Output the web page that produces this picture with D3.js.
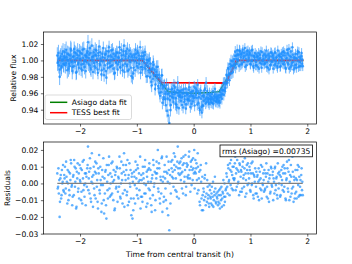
<!DOCTYPE html>
<html lang="en">
<head>
<meta charset="UTF-8">
<title>transit light curve</title>
<script src="https://d3js.org/d3.v7.min.js"></script>
<style>
  body { margin: 0; background: #fff; }
  text { font-family: "DejaVu Sans", sans-serif; }
</style>
</head>
<body>
<script>

// observation times (h from central transit), first half of the exposures
const time = [
  -2.400,-2.386,-2.373,-2.359,-2.346,-2.332,-2.319,-2.305,-2.292,-2.278,
  -2.265,-2.251,-2.238,-2.224,-2.211,-2.197,-2.184,-2.170,-2.157,-2.143,
  -2.130,-2.116,-2.103,-2.089,-2.076,-2.062,-2.049,-2.035,-2.022,-2.008,
  -1.995,-1.981,-1.968,-1.954,-1.941,-1.927,-1.914,-1.900,-1.887,-1.873,
  -1.860,-1.846,-1.833,-1.819,-1.806,-1.792,-1.779,-1.765,-1.752,-1.738,
  -1.725,-1.711,-1.698,-1.684,-1.671,-1.657,-1.644,-1.630,-1.617,-1.603,
  -1.590,-1.576,-1.563,-1.549,-1.536,-1.522,-1.509,-1.495,-1.482,-1.468,
  -1.455,-1.441,-1.428,-1.414,-1.401,-1.387,-1.374,-1.360,-1.347,-1.333,
  -1.320,-1.306,-1.293,-1.279,-1.266,-1.252,-1.239,-1.225,-1.212,-1.198,
  -1.185,-1.171,-1.158,-1.144,-1.131,-1.117,-1.104,-1.090,-1.077,-1.063,
  -1.050,-1.036,-1.023,-1.009,-0.996,-0.982,-0.969,-0.955,-0.942,-0.928,
  -0.915,-0.901,-0.888,-0.874,-0.861,-0.847,-0.834,-0.820,-0.807,-0.793,
  -0.780,-0.766,-0.753,-0.739,-0.726,-0.712,-0.699,-0.685,-0.672,-0.658,
  -0.645,-0.631,-0.618,-0.604,-0.591,-0.577,-0.564,-0.550,-0.537,-0.523,
  -0.510,-0.496,-0.483,-0.469,-0.456,-0.442,-0.429,-0.415,-0.402,-0.388,
  -0.375,-0.361,-0.348,-0.334,-0.321,-0.307,-0.294,-0.280,-0.267,-0.253,
  -0.240,-0.226,-0.213,-0.199,-0.186,-0.172,-0.159,-0.145,-0.132,-0.118,
  -0.105,-0.091,-0.078,-0.064,-0.051,-0.037,-0.024,-0.010,0.003,0.017,
  0.030,0.044,0.057,0.071,0.084,0.098,0.111,0.125,0.138,0.152,
  0.165,0.179,0.192,0.206,0.219,0.233,0.246,0.260,0.273,0.287,
  0.300,0.314,0.327,0.341,0.354,0.368,0.381,0.395,0.408,0.422,
  0.435,0.449,0.462,0.476,0.489,0.503,0.516,0.530,0.543,0.557,
  0.570,0.584,0.597,0.611,0.624,0.638,0.651,0.665,0.678,0.692,
  0.705,0.719,0.732,0.746,0.759,0.773,0.786,0.800,0.813,0.827,
  0.840,0.854,0.867,0.881,0.894,0.908,0.921,0.935,0.948,0.962,
  0.975,0.989,1.002,1.016,1.029,1.043,1.056,1.070,1.083,1.097,
  1.110,1.124,1.137,1.151,1.164,1.178,1.191,1.205,1.218,1.232,
  1.245,1.259,1.272,1.286,1.299,1.313,1.326,1.340,1.353,1.367,
  1.380,1.394,1.407,1.421,1.434,1.448,1.461,1.475,1.488,1.502,
  1.515,1.529,1.542,1.556,1.569,1.583,1.596,1.610,1.623,1.637,
  1.650,1.664,1.677,1.691,1.704,1.718,1.731,1.745,1.758,1.772,
  1.785,1.799,1.812,1.826,1.839,1.853,1.866,1.880,1.893,1.907,
  1.920
];

// residuals vs the Asiago fit for the times above, parts per thousand
const residPpt = [
  6,-2,-6,-20,3,-9,8,1,-4,5,
  10,-3,4,-12,0,7,-7,2,12,-1,
  -8,5,14,-2,9,-14,3,-5,6,11,
  1,-10,8,13,-4,-1,6,-13,4,9,
  22,3,-6,9,-11,18,0,5,-3,7,
  -9,12,2,-15,6,-4,10,-1,-12,4,
  15,-18,-6,8,-21,1,-9,11,-3,6,
  -7,4,13,-10,2,-15,7,-2,9,-5,
  3,16,-8,0,6,-12,11,18,-4,2,
  8,-5,-13,5,12,-2,-9,4,-21,-16,
  7,-1,13,3,-7,9,1,-4,16,-8,
  2,-11,6,0,10,-6,-14,4,8,-3,
  12,-9,1,-17,5,14,-2,7,-10,3,
  6,20,-5,9,-12,2,15,-17,4,-8,
  11,-3,7,-15,1,13,-28,5,-6,9,
  14,3,18,8,-4,10,-8,22,6,12,
  9,2,15,7,-6,12,4,17,-2,10,
  11,5,19,3,13,-1,8,15,6,-3,
  14,9,2,18,-4,7,-13,11,-9,4,
  -16,-5,3,-8,12,-11,-2,-7,-14,-4,
  -9,-6,-13,1,-10,-7,-3,-12,-8,-5,
  -11,-4,-15,-7,-2,-9,-6,-13,0,-8,
  -3,4,-6,9,2,12,-1,7,5,-4,
  10,3,16,6,-2,8,1,-7,11,4,
  7,-3,13,5,9,-8,2,11,-1,6,
  3,8,-5,12,0,6,-9,4,9,-2,
  -6,5,1,-10,7,3,-4,10,-1,2,
  8,-3,4,-8,6,1,-11,5,-5,9,
  -2,7,3,-6,10,-1,4,-9,6,0,
  5,-7,8,2,-4,11,-2,6,-10,3,
  9,-5,14,1,-8,4,-3,7,-11,2,
  -6,3,-9,8,-1,10,-7,2,5,-4,
  -7
];

// interleaved exposures (second camera frames)
const time2 = [
  -2.393,-2.380,-2.366,-2.353,-2.339,-2.326,-2.312,-2.299,-2.285,-2.272,
  -2.258,-2.245,-2.231,-2.218,-2.204,-2.191,-2.177,-2.164,-2.150,-2.137,
  -2.123,-2.110,-2.096,-2.083,-2.069,-2.056,-2.042,-2.029,-2.015,-2.002,
  -1.988,-1.975,-1.961,-1.948,-1.934,-1.921,-1.907,-1.894,-1.880,-1.867,
  -1.853,-1.840,-1.826,-1.813,-1.799,-1.786,-1.772,-1.759,-1.745,-1.732,
  -1.718,-1.705,-1.691,-1.678,-1.664,-1.651,-1.637,-1.624,-1.610,-1.597,
  -1.583,-1.570,-1.556,-1.543,-1.529,-1.516,-1.502,-1.489,-1.475,-1.462,
  -1.448,-1.435,-1.421,-1.408,-1.394,-1.381,-1.367,-1.354,-1.340,-1.327,
  -1.313,-1.300,-1.286,-1.273,-1.259,-1.246,-1.232,-1.219,-1.205,-1.192,
  -1.178,-1.165,-1.151,-1.138,-1.124,-1.111,-1.097,-1.084,-1.070,-1.057,
  -1.043,-1.030,-1.016,-1.003,-0.989,-0.976,-0.962,-0.949,-0.935,-0.922,
  -0.908,-0.895,-0.881,-0.868,-0.854,-0.841,-0.827,-0.814,-0.800,-0.787,
  -0.773,-0.760,-0.746,-0.733,-0.719,-0.706,-0.692,-0.679,-0.665,-0.652,
  -0.638,-0.625,-0.611,-0.598,-0.584,-0.571,-0.557,-0.544,-0.530,-0.517,
  -0.503,-0.490,-0.476,-0.463,-0.449,-0.436,-0.422,-0.409,-0.395,-0.382,
  -0.368,-0.355,-0.341,-0.328,-0.314,-0.301,-0.287,-0.274,-0.260,-0.247,
  -0.233,-0.220,-0.206,-0.193,-0.179,-0.166,-0.152,-0.139,-0.125,-0.112,
  -0.098,-0.085,-0.071,-0.058,-0.044,-0.031,-0.017,-0.004,0.010,0.023,
  0.037,0.050,0.064,0.077,0.091,0.104,0.118,0.131,0.145,0.158,
  0.172,0.185,0.199,0.212,0.226,0.239,0.253,0.266,0.280,0.293,
  0.307,0.320,0.334,0.347,0.361,0.374,0.388,0.401,0.415,0.428,
  0.442,0.455,0.469,0.482,0.496,0.509,0.523,0.536,0.550,0.563,
  0.577,0.590,0.604,0.617,0.631,0.644,0.658,0.671,0.685,0.698,
  0.712,0.725,0.739,0.752,0.766,0.779,0.793,0.806,0.820,0.833,
  0.847,0.860,0.874,0.887,0.901,0.914,0.928,0.941,0.955,0.968,
  0.982,0.995,1.009,1.022,1.036,1.049,1.063,1.076,1.090,1.103,
  1.117,1.130,1.144,1.157,1.171,1.184,1.198,1.211,1.225,1.238,
  1.252,1.265,1.279,1.292,1.306,1.319,1.333,1.346,1.360,1.373,
  1.387,1.400,1.414,1.427,1.441,1.454,1.468,1.481,1.495,1.508,
  1.522,1.535,1.549,1.562,1.576,1.589,1.603,1.616,1.630,1.643,
  1.657,1.670,1.684,1.697,1.711,1.724,1.738,1.751,1.765,1.778,
  1.792,1.805,1.819,1.832,1.846,1.859,1.873,1.886,1.900,1.913
];

const residPpt2 = [
  -3,9,2,-11,5,-7,0,11,-5,3,
  -6,13,1,8,-10,-4,6,14,-2,-13,
  4,-7,10,1,-15,7,12,-3,-9,2,
  9,-5,-12,3,14,-8,0,6,-2,11,
  -4,7,15,-9,1,4,-14,10,-7,13,
  6,-2,-11,9,17,-6,2,-17,8,-1,
  -10,3,7,-13,11,-4,5,16,-8,0,
  12,-6,1,8,-16,5,-3,10,-11,4,
  -2,9,-9,13,2,-6,7,-14,5,11,
  -7,14,3,-11,0,8,-19,6,1,-9,
  4,-12,8,-3,11,-9,6,2,-15,5,
  -8,10,3,-6,14,-1,7,-12,1,9,
  -4,8,-13,3,-7,11,0,-16,6,13,
  9,-3,12,-9,4,-6,16,1,-11,7,
  3,-10,16,6,-19,8,0,-12,13,4,
  7,-2,11,16,3,-5,13,9,-9,5,
  13,6,-3,11,16,1,8,-7,12,4,
  3,16,8,-5,10,14,2,9,20,7,
  6,12,-6,10,3,-11,8,1,-16,-7,
  -3,-10,5,-13,-6,2,-9,-12,-1,-8,
  -12,-2,-8,-14,-5,4,-11,-6,-9,-13,
  -7,-12,-3,-10,-14,-5,2,-8,-11,-4,
  6,-2,11,1,-7,8,14,-3,10,3,
  2,12,-4,9,14,0,7,12,-5,8,
  -5,10,3,-2,15,6,-6,8,12,0,
  10,-4,6,-1,13,-7,5,1,-6,7,
  4,-8,9,2,-3,11,-9,0,6,-5,
  -4,6,12,-2,-9,8,3,-6,10,-1,
  5,-10,1,9,-4,3,-7,12,-3,7,
  -8,4,-1,10,6,-5,9,-9,2,13,
  -3,7,-10,5,11,-6,16,-2,4,-9,
  8,-5,2,11,-8,4,-2,-7,9,1
];

// photometric error, parts per thousand, one value per block of 10 exposures
const errPpt = [10,10,9,9,9,8,8,8,8,8,8,8,8,8,8,8,7,7,7,7,7,7,7,7,6,6,6,6,6,6,6,6,6];

// offset of the plotted light curve from (fit + residual), per block of 10, ppt
// (the flux panel sits lower than the residuals suggest during the first half of transit)
const fluxShiftPpt = [0,0,0,0,0,0,0,0,0,0,0,0,0,-5,-10,-10,-12,-12,-8,0,0,0,0,0,0,0,0,0,0,0,0,0,0];

// model curves (knots)
const asiagoT = [-2.40, -0.90, -0.45, -0.30, 0.00, 0.30, 0.45, 0.78, 1.93];
const asiagoF = [1.000, 1.000, 0.962, 0.961, 0.960, 0.961, 0.962, 1.000, 1.000];
const tessT = [-2.40, -0.90, -0.56, 0.57, 0.75, 1.93];
const tessF = [1.000, 1.000, 0.973, 0.9725, 1.000, 1.000];

const xTicks = [-2, -1, 0, 1, 2];
const fluxTicks = [0.94, 0.96, 0.98, 1.00, 1.02];
const residTicks = [-0.03, -0.02, -0.01, 0.00, 0.01, 0.02];
const legendLabels = ["Asiago data fit", "TESS best fit"];
const legendColors = ["green", "red"];
const rmsLabel = "rms (Asiago) =0.00735";

const blue = "#1e90ff";
const fs = 7.6;

var svg = d3.select("body").append("svg")
    .attr("width", 352)
    .attr("height", 264);

// scales
var x = d3.scaleLinear().domain([-2.643, 2.162]).range([43.5, 316.5]);
var yTop = d3.scaleLinear().domain([0.9226, 1.0346]).range([124, 32]);
var yBot = d3.scaleLinear().domain([-0.0302, 0.02474]).range([234, 142]);
var asiagoModel = d3.scaleLinear().domain(asiagoT).range(asiagoF);

function toPoint(t, ppt, i) {
    var r = ppt / 1000;
    var b = Math.floor(i / 10);
    return {
        t: t,
        resid: r,
        flux: asiagoModel(t) + r + fluxShiftPpt[b] / 1000,
        err: errPpt[b] / 1000
    };
}
var points = time.map((t, i) => toPoint(t, residPpt[i], i))
    .concat(time2.map((t, i) => toPoint(t, residPpt2[i], i)))
    .sort((a, b) => a.t - b.t);

// clip paths for both panels
var defs = svg.append("defs");
defs.append("clipPath").attr("id", "clipTop").append("rect")
    .attr("x", 43.5).attr("y", 32).attr("width", 273).attr("height", 92);
defs.append("clipPath").attr("id", "clipBot").append("rect")
    .attr("x", 43.5).attr("y", 142).attr("width", 273).attr("height", 92);

function styleAxis(g) {
    g.select(".domain").remove();
    g.selectAll(".tick line").attr("stroke", "#000").attr("stroke-width", 0.6);
    g.selectAll(".tick text")
        .attr("font-size", fs)
        .attr("font-family", "DejaVu Sans, sans-serif")
        .attr("fill", "#000");
}

function drawAxes(yScale, ticks, fmt, top, bottom) {
    svg.append("g")
        .attr("transform", "translate(43.5,0)")
        .call(d3.axisLeft(yScale).tickValues(ticks).tickFormat(fmt).tickSize(2.6).tickPadding(2.6))
        .call(styleAxis);
    svg.append("g")
        .attr("transform", "translate(0," + bottom + ")")
        .call(d3.axisBottom(x).tickValues(xTicks).tickFormat(d3.format("d")).tickSize(2.6).tickPadding(2))
        .call(styleAxis);
    svg.append("rect")
        .attr("x", 43.5).attr("y", top)
        .attr("width", 273).attr("height", bottom - top)
        .attr("fill", "none")
        .attr("stroke", "#000")
        .attr("stroke-width", 0.7);
}

// ---------- top panel ----------
var topG = svg.append("g").attr("clip-path", "url(#clipTop)");

var line = d3.line().x(d => x(d[0])).y(d => yTop(d[1]));

// model curves go underneath the data
topG.append("path")
    .datum(asiagoT.map((t, i) => [t, asiagoF[i]]))
    .attr("d", line)
    .attr("fill", "none")
    .attr("stroke", "green")
    .attr("stroke-width", 1.5);

topG.append("path")
    .datum(tessT.map((t, i) => [t, tessF[i]]))
    .attr("d", line)
    .attr("fill", "none")
    .attr("stroke", "red")
    .attr("stroke-width", 1.8);

topG.selectAll(".errbar")
    .data(points)
    .enter()
    .append("line")
    .attr("class", "errbar")
    .attr("x1", d => x(d.t))
    .attr("x2", d => x(d.t))
    .attr("y1", d => yTop(d.flux - d.err))
    .attr("y2", d => yTop(d.flux + d.err))
    .attr("stroke", "#3b9cff")
    .attr("stroke-opacity", 0.7)
    .attr("stroke-width", 1);

topG.selectAll(".fluxpt")
    .data(points)
    .enter()
    .append("circle")
    .attr("class", "fluxpt")
    .attr("cx", d => x(d.t))
    .attr("cy", d => yTop(d.flux))
    .attr("r", 1.3)
    .attr("fill", blue)
    .attr("fill-opacity", 0.8);

drawAxes(yTop, fluxTicks, d3.format(".2f"), 32, 124);

// legend
var legend = svg.append("g").attr("transform", "translate(45,95)");
legend.append("rect")
    .attr("width", 86.5)
    .attr("height", 24.5)
    .attr("rx", 2)
    .attr("fill", "#fff")
    .attr("fill-opacity", 0.8)
    .attr("stroke", "#ccc")
    .attr("stroke-width", 0.7);

var items = legend.selectAll(".legend-item")
    .data(legendLabels)
    .enter()
    .append("g")
    .attr("class", "legend-item")
    .attr("transform", (d, i) => "translate(0," + (7.3 + i * 10.4) + ")");

items.append("line")
    .attr("x1", 5).attr("x2", 22.3)
    .attr("stroke", (d, i) => legendColors[i])
    .attr("stroke-width", 1.5);

items.append("text")
    .attr("x", 26.7)
    .attr("y", 0)
    .attr("dy", "0.35em")
    .attr("font-size", fs)
    .text(d => d);

// ---------- bottom panel ----------
var botG = svg.append("g").attr("clip-path", "url(#clipBot)");

botG.selectAll(".residpt")
    .data(points)
    .enter()
    .append("circle")
    .attr("class", "residpt")
    .attr("cx", d => x(d.t))
    .attr("cy", d => yBot(d.resid))
    .attr("r", 1.3)
    .attr("fill", blue)
    .attr("fill-opacity", 0.7);

botG.append("line")
    .attr("x1", x(d3.min(time)))
    .attr("x2", x(d3.max(time)))
    .attr("y1", yBot(0))
    .attr("y2", yBot(0))
    .attr("stroke", "gray")
    .attr("stroke-width", 1.3);

drawAxes(yBot, residTicks, d3.format(".2f"), 142, 234);

// rms box
svg.append("rect")
    .attr("x", 220).attr("y", 145)
    .attr("width", 92.5).attr("height", 11.8)
    .attr("fill", "#fff")
    .attr("stroke", "#000")
    .attr("stroke-width", 0.8);
svg.append("text")
    .attr("x", 266.2).attr("y", 151)
    .attr("dy", "0.35em")
    .attr("text-anchor", "middle")
    .attr("font-size", fs)
    .text(rmsLabel);

// axis labels
svg.append("text")
    .attr("transform", "translate(13,78) rotate(-90)")
    .attr("text-anchor", "middle")
    .attr("dy", "0.35em")
    .attr("font-size", fs)
    .text("Relative flux");

svg.append("text")
    .attr("transform", "translate(7.3,188) rotate(-90)")
    .attr("text-anchor", "middle")
    .attr("dy", "0.35em")
    .attr("font-size", fs)
    .text("Residuals");

svg.append("text")
    .attr("x", 180)
    .attr("y", 254)
    .attr("dy", "0.35em")
    .attr("text-anchor", "middle")
    .attr("font-size", fs)
    .text("Time from central transit (h)");

</script>
</body>
</html>
